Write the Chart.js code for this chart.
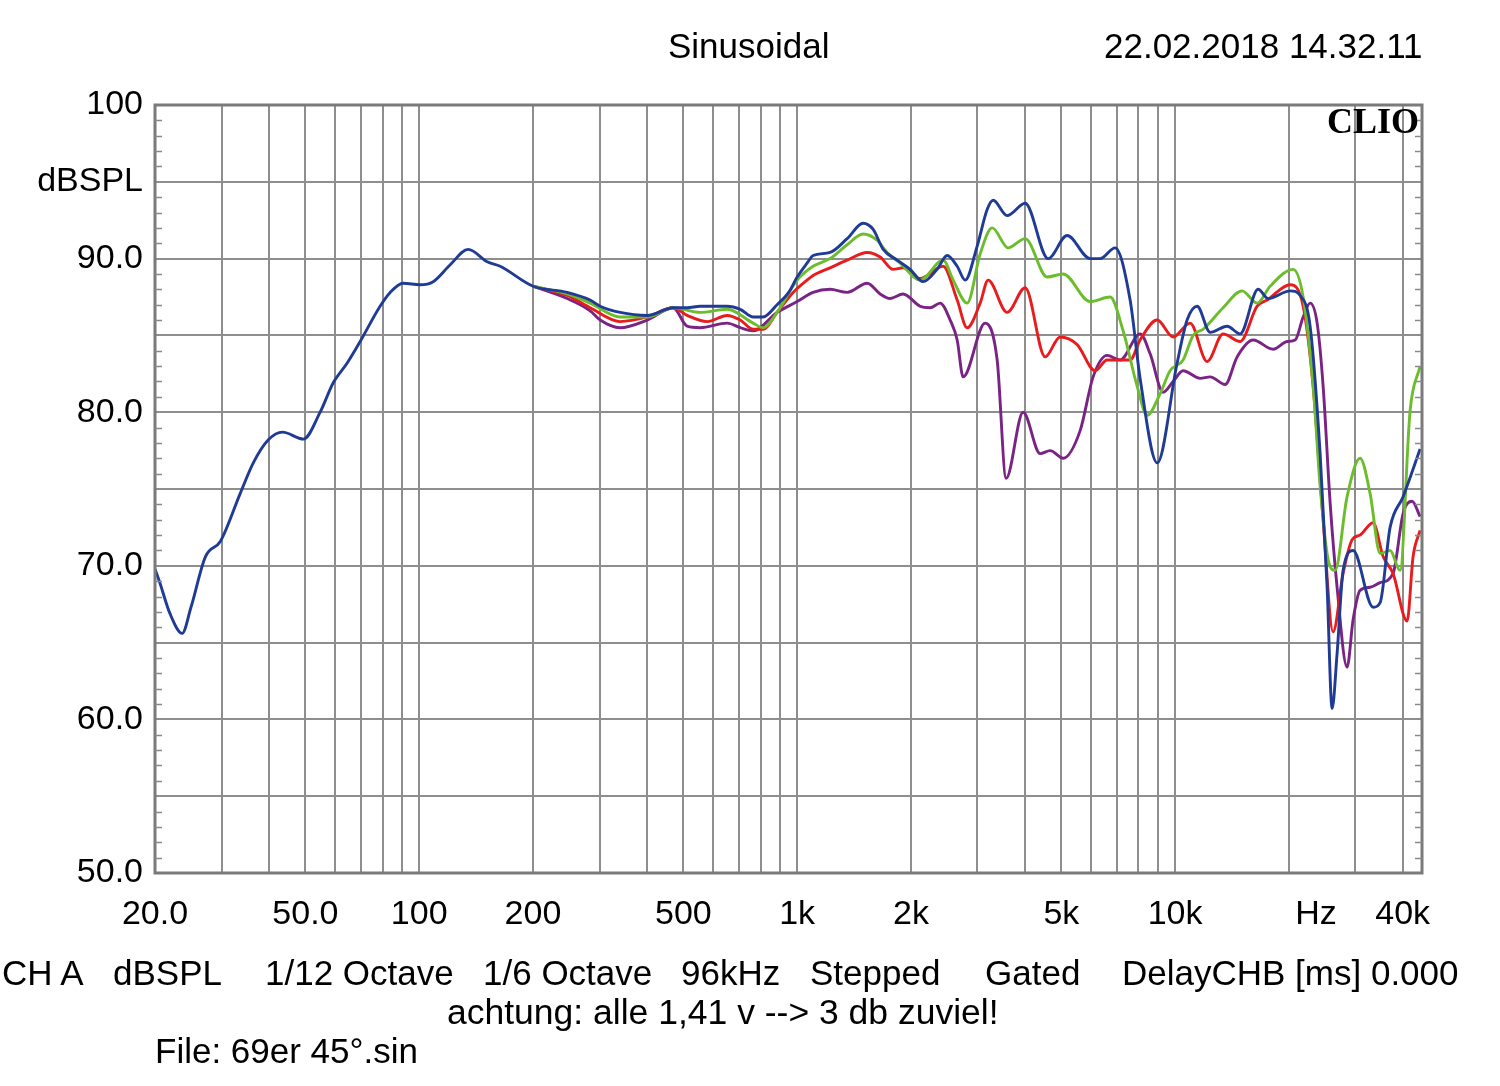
<!DOCTYPE html>
<html><head><meta charset="utf-8">
<script src="https://cdn.jsdelivr.net/npm/chart.js@4.4.1/dist/chart.umd.min.js"></script>
<style>
html,body{margin:0;padding:0;background:#fff;}
#wrap{position:relative;width:1500px;height:1086px;overflow:hidden;font-family:"Liberation Sans",Arial,sans-serif;color:#000;background:#fff;}
canvas{position:absolute;left:0;top:0;}
.t{position:absolute;white-space:nowrap;line-height:1;font-size:35px;}
.clio{position:absolute;white-space:nowrap;line-height:1;font-family:"Liberation Serif","Times New Roman",serif;font-weight:bold;font-size:36px;}
</style></head><body>
<div id="wrap">
<canvas id="c" width="1500" height="1086"></canvas>
<div class="t" style="left:668px;top:28px;">Sinusoidal</div>
<div class="t" style="left:1104px;top:28px;">22.02.2018 14.32.11</div>
<div class="clio" style="right:81px;top:103px;">CLIO</div>
<div class="t" style="left:2px;top:955px;">CH A</div>
<div class="t" style="left:113px;top:955px;">dBSPL</div>
<div class="t" style="left:265px;top:955px;">1/12 Octave</div>
<div class="t" style="left:483px;top:955px;">1/6 Octave</div>
<div class="t" style="left:681px;top:955px;">96kHz</div>
<div class="t" style="left:810px;top:955px;">Stepped</div>
<div class="t" style="left:985px;top:955px;">Gated</div>
<div class="t" style="left:1122px;top:955px;">DelayCHB [ms] 0.000</div>
<div class="t" style="left:447px;top:995px;font-size:35.5px;">achtung: alle 1,41 v --&gt; 3 db zuviel!</div>
<div class="t" style="left:155px;top:1033px;">File: 69er 45°.sin</div>
</div>
<script>
// ---- data (Hz, dBSPL) ----
const blueFreq = [20,20.6,21.9,23.6,24.9,27.2,29.8,33.6,36.4,39.9,43.5,49.4,54.7,59.2,64.5,69.8,78.8,83.8,90.7,100.6,108.9,120.8,134.8,151.3,163.8,200.2,246.3,283.4,301.2,340.1,401.1,469.9,511.6,553.9,652.9,706.9,764.9,812.7,885,950,1000,1062,1102,1222,1356,1495,1589,1689,1839,1990,2154,2346,2494,2651,2783,2993,3182,3301,3594,4011,4613,5179,5958,6332,6939,7603,8080,8966,10123,10758,11436,12379,13727,14858,16585,17620,20153,21420,22760,24193,25247,26025,26827,27825,29577,33410,34866,37050,40103,44485];
const blueDb   = [69.8,68.9,66.9,65.6,67.3,70.6,71.6,74.7,76.7,78.2,78.7,78.25,80.0,81.9,83.2,84.6,86.9,87.8,88.4,88.3,88.5,89.6,90.6,89.8,89.5,88.2,87.8,87.3,86.9,86.5,86.3,86.8,86.8,86.9,86.9,86.7,86.2,86.2,87.0,87.8,88.8,89.7,90.2,90.4,91.3,92.3,91.9,90.6,89.9,89.3,88.5,89.3,90.2,89.5,88.6,90.8,93.2,93.8,92.8,93.6,90.0,91.5,90.0,90.0,90.7,87.3,82.2,76.7,83.2,86.0,86.9,85.2,85.6,85.1,88.0,87.4,87.9,87.6,85.6,77.3,68.6,60.7,64.3,69.7,71.0,67.3,67.6,72.5,74.5,77.6];

const greenFreq = [200.2,246.3,283.4,340.1,401.1,469.9,553.9,652.9,764.9,812.7,885,1000,1102,1222,1356,1495,1626,1730,1873,2115,2433,2587,2817,3049,3281,3616,4011,4586,5054,5958,6730,7285,7934,8433,9126,9699,10500,11160,11861,13397,15041,16484,17836,20527,21815,23183,24193,25402,26503,28510,30859,32806,34866,37050,39370,41853,44485];
const greenDb   = [88.2,87.7,87.1,86.2,86.2,86.8,86.5,86.7,85.8,85.5,86.5,88.6,89.5,90.0,90.9,91.6,91.2,90.4,89.7,88.6,89.9,88.6,87.1,90.3,92.0,90.7,91.3,88.8,89.0,87.2,87.5,85.3,81.7,79.8,81.2,82.7,83.4,85.0,85.4,86.8,87.9,87.1,88.2,89.3,87.5,81.7,75.2,70.4,69.7,74.5,77.0,74.7,70.8,71.0,69.7,80.1,83.0];

const redFreq = [200.2,246.3,283.4,340.1,401.1,469.9,511.6,578,652.9,706.9,764.9,812.7,885,975.9,1062,1102,1222,1356,1532,1658,1795,1907,2115,2433,2651,2817,3049,3201,3594,4011,4531,4963,5505,6142,6608,7603,8080,8966,9879,10957,12155,13397,14858,16484,17516,20153,21815,23183,24638,26182,27825,29397,30859,33410,35513,37731,41094,42622,44485];
const redDb   = [88.2,87.6,86.8,85.9,86.2,86.8,86.3,85.9,86.3,86.0,85.4,85.4,86.5,87.8,88.6,88.9,89.4,89.9,90.4,90.1,89.3,89.4,88.7,89.5,87.3,85.5,87.1,88.6,86.5,88.1,83.6,84.9,84.4,82.7,83.4,83.4,84.7,86.0,84.9,85.8,83.3,85.1,84.6,86.9,87.3,88.3,86.9,81.7,73.0,65.7,69.5,71.7,72.0,72.8,70.6,69.5,66.4,70.6,72.3];

const purpleFreq = [200.2,246.3,283.4,301.2,340.1,401.1,469.9,511.6,553.9,652.9,706.9,764.9,885,1000,1102,1222,1356,1532,1658,1762,1907,2115,2248,2389,2540,2651,2749,3143,3382,3572,3962,4395,4670,5054,5607,6068,6608,7154,8080,8589,9294,9879,10500,11646,12379,13561,14588,16087,18166,19789,20779,21815,22760,23755,24638,25713,26827,28510,29577,30859,32806,34866,37731,40103,42364,44485];
const purpleDb   = [88.2,87.4,86.6,86.0,85.5,86.0,86.8,85.6,85.5,85.8,85.5,85.3,86.5,87.2,87.8,88.0,87.8,88.4,87.7,87.4,87.7,86.9,86.8,87.1,86.0,84.7,82.3,85.8,83.4,75.7,80.0,77.3,77.5,77.0,78.8,82.3,83.7,83.4,85.1,83.8,81.3,82.0,82.7,82.2,82.3,81.8,83.6,84.7,84.1,84.6,84.7,86.2,87.1,85.8,81.7,74.1,68.6,63.4,66.5,68.4,68.6,68.9,69.5,73.4,74.2,73.2];

const xTickValues = [20,30,40,50,60,70,80,90,100,200,300,400,500,600,700,800,900,1000,2000,3000,4000,5000,6000,7000,8000,9000,10000,20000,23600,30000,40000];
const xTickLabels = {20:'20.0',50:'50.0',100:'100',200:'200',500:'500',1000:'1k',2000:'2k',5000:'5k',10000:'10k',23600:'Hz',40000:'40k'};
const yTickValues = [50,55,60,65,70,75,80,85,90,95,100];
const yTickLabels = {100:'100',95:'dBSPL',90:'90.0',80:'80.0',70:'70.0',60:'60.0',50:'50.0'};
const hzLabelValue = 23600;

// ---- chart ----
function pts(f, d) { return f.map((x, i) => ({ x: x, y: d[i] })); }
function ds(label, f, d, color, order) {
  return { label, data: pts(f, d), borderColor: color, backgroundColor: color, borderWidth: 2.9,
    pointRadius: 0, fill: false, cubicInterpolationMode: 'monotone', order };
}
const GRID = '#8e8e8e';
const framePlugin = {
  id: 'frame',
  afterDraw(chart) {
    const { ctx, chartArea: a, scales } = chart;
    ctx.save();
    ctx.strokeStyle = '#7a7a7a';
    ctx.lineWidth = 3;
    ctx.strokeRect(a.left, a.top, a.right - a.left, a.bottom - a.top);
    ctx.lineWidth = 1.5;
    ctx.strokeStyle = '#8a8a8a';
    for (let v = 51; v < 100; v++) {
      if (v % 5 === 0) continue;
      const y = Math.round(scales.y.getPixelForValue(v)) + 0.5;
      ctx.beginPath();
      ctx.moveTo(a.left, y); ctx.lineTo(a.left + 7, y);
      ctx.moveTo(a.right - 7, y); ctx.lineTo(a.right, y);
      ctx.stroke();
    }
    ctx.restore();
  }
};
const fontSpec = { family: "'Liberation Sans', Arial, sans-serif", size: 34 };
new Chart(document.getElementById('c'), {
  type: 'line',
  data: { datasets: [
    ds('blue', blueFreq, blueDb, '#1f3b95', 0),
    ds('green', greenFreq, greenDb, '#6cbd2c', 1),
    ds('red', redFreq, redDb, '#e81c1c', 2),
    ds('purple', purpleFreq, purpleDb, '#7a2385', 3)
  ]},
  options: {
    responsive: false, animation: false, devicePixelRatio: 1,
    layout: { padding: { top: 105, right: 78, left: 0, bottom: 0 } },
    plugins: { legend: { display: false }, tooltip: { enabled: false } },
    scales: {
      x: {
        type: 'logarithmic', min: 20, max: 45000,
        afterBuildTicks: s => { s.ticks = xTickValues.map(v => ({ value: v })); },
        afterFit: s => { s.height = 213; },
        ticks: { autoSkip: false, maxRotation: 0, minRotation: 0, padding: 21, color: '#000', font: fontSpec,
          callback: v => xTickLabels[v] || '' },
        grid: { color: c => (c.tick && c.tick.value === hzLabelValue) ? 'rgba(0,0,0,0)' : GRID, lineWidth: 2, drawTicks: false, tickLength: 0 },
        border: { display: false }
      },
      y: {
        min: 50, max: 100,
        afterBuildTicks: s => { s.ticks = yTickValues.map(v => ({ value: v })); },
        afterFit: s => { s.width = 155; },
        ticks: { padding: 12, color: '#000', font: fontSpec, callback: v => (yTickLabels[v] !== undefined ? yTickLabels[v] : '') },
        grid: { color: GRID, lineWidth: 2, drawTicks: false, tickLength: 0 },
        border: { display: false }
      }
    }
  },
  plugins: [framePlugin]
});
</script>
</body></html>
